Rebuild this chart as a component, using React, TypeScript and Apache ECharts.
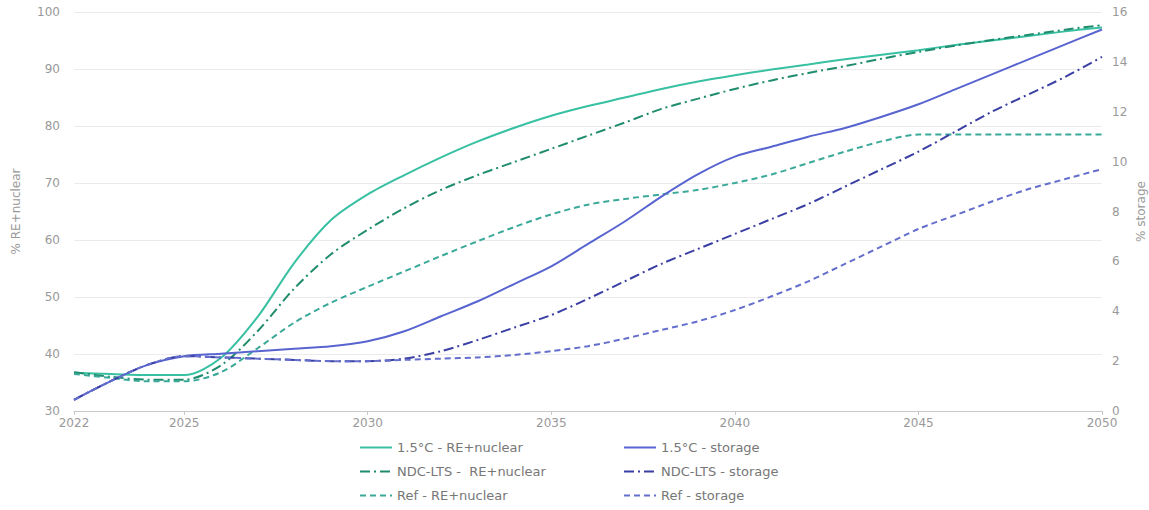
import React, { useEffect, useRef } from "react";
import * as echarts from "echarts";

const years = [
  "2022","2023","2024","2025","2026","2027","2028","2029","2030","2031",
  "2032","2033","2034","2035","2036","2037","2038","2039","2040","2041",
  "2042","2043","2044","2045","2046","2047","2048","2049","2050",
];

const re15 = [36.7,36.5,36.3,36.3,39.3,46.5,56,63.5,68,71.4,74.5,77.3,79.7,81.8,83.5,85,86.5,87.8,88.9,89.9,90.8,91.7,92.5,93.3,94.2,95,95.8,96.6,97.3];
const reNdc = [36.8,36,35.5,35.5,38,44,51.5,57.5,61.8,65.6,68.8,71.4,73.7,76,78.3,80.6,83,84.8,86.5,88,89.3,90.5,91.8,93,94.1,95.1,96,96.9,97.7];
const reRef = [36.5,35.8,35.2,35.2,36.8,41,45.5,49,51.8,54.5,57.2,59.8,62.3,64.5,66.2,67.2,68,68.8,70,71.5,73.5,75.5,77.3,78.5,78.5,78.5,78.5,78.5,78.5];

const st15 = [0.45,1.2,1.85,2.2,2.3,2.4,2.5,2.6,2.8,3.2,3.8,4.4,5.1,5.8,6.7,7.6,8.6,9.5,10.2,10.6,11.0,11.35,11.8,12.3,12.9,13.5,14.1,14.7,15.3];
const stNdc = [0.45,1.2,1.85,2.2,2.15,2.1,2.05,2.0,2.0,2.1,2.4,2.85,3.35,3.85,4.5,5.2,5.9,6.5,7.1,7.7,8.3,9.0,9.7,10.4,11.2,12.0,12.7,13.4,14.2];
const stRef = [0.45,1.2,1.85,2.2,2.15,2.1,2.05,2.0,2.0,2.05,2.1,2.15,2.25,2.4,2.6,2.9,3.25,3.6,4.05,4.6,5.2,5.9,6.6,7.3,7.85,8.4,8.9,9.3,9.7];

const names = {
  re15: "1.5°C - RE+nuclear",
  reNdc: "NDC-LTS -  RE+nuclear",
  reRef: "Ref - RE+nuclear",
  st15: "1.5°C - storage",
  stNdc: "NDC-LTS - storage",
  stRef: "Ref - storage",
};

const FONT = "DejaVu Sans";

export default function App() {
  const ref = useRef<HTMLDivElement>(null);
  useEffect(() => {
    if (!ref.current) return;
    const chart = echarts.init(ref.current, null, { renderer: "svg" });
    const showYear = (_i: number, v: string) => v === "2022" || Number(v) % 5 === 0;
    const mk = (name: string, data: number[], color: string, type: any, yAxisIndex: number) => ({
      name,
      type: "line",
      data,
      yAxisIndex,
      showSymbol: false,
      symbol: "none",
      smooth: 0.3,
      lineStyle: { color, width: 2, type },
      itemStyle: { color },
    });
    const dashDot = [10, 4, 2, 4];
    const dashed = [6, 4];
    const legendBase = {
      orient: "vertical",
      top: 436,
      itemWidth: 32,
      itemHeight: 14,
      itemGap: 11,
      itemStyle: { opacity: 0 },
      textStyle: { color: "#777", fontSize: 13, fontFamily: FONT },
    };
    chart.setOption({
      animation: false,
      textStyle: { fontFamily: FONT },
      grid: { left: 74, right: 47, top: 12, bottom: 99, outerBoundsMode: "none", containLabel: false },
      legend: [
        { ...legendBase, left: 354, data: [names.re15, names.reNdc, names.reRef] },
        { ...legendBase, left: 618, data: [names.st15, names.stNdc, names.stRef] },
      ],
      xAxis: {
        type: "category",
        data: years,
        boundaryGap: false,
        axisLine: { lineStyle: { color: "#c8c8c8" } },
        axisTick: { interval: showYear, length: 4, lineStyle: { color: "#c8c8c8" } },
        axisLabel: { interval: showYear, color: "#999", fontSize: 12, margin: 6, fontFamily: FONT },
        splitLine: { show: false },
      },
      yAxis: [
        {
          type: "value",
          min: 30,
          max: 100,
          interval: 10,
          name: "% RE+nuclear",
          nameLocation: "middle",
          nameRotate: 90,
          nameGap: 52,
          nameTextStyle: { color: "#999", fontSize: 12, fontFamily: FONT },
          axisLine: { show: false },
          axisTick: { show: false },
          axisLabel: { color: "#999", fontSize: 12, margin: 14, fontFamily: FONT },
          splitLine: { lineStyle: { color: "#ebebeb" } },
        },
        {
          type: "value",
          min: 0,
          max: 16,
          interval: 2,
          position: "right",
          name: "% storage",
          nameLocation: "middle",
          nameRotate: 90,
          nameGap: 33,
          nameMoveOverlap: false,
          nameTextStyle: { color: "#999", fontSize: 12, fontFamily: FONT },
          axisLine: { show: false },
          axisTick: { show: false },
          axisLabel: { color: "#999", fontSize: 12, margin: 10, fontFamily: FONT },
          splitLine: { show: false },
        },
      ],
      series: [
        mk(names.re15, re15, "#38c0a2", "solid", 0),
        mk(names.reNdc, reNdc, "#208c6e", dashDot, 0),
        mk(names.reRef, reRef, "#3aa999", dashed, 0),
        mk(names.st15, st15, "#5864d0", "solid", 1),
        mk(names.stNdc, stNdc, "#3a3fa3", dashDot, 1),
        mk(names.stRef, stRef, "#646ecc", dashed, 1),
      ],
    });
    return () => chart.dispose();
  }, []);
  return (
    <div
      ref={ref}
      style={{ position: "fixed", left: 0, top: 0, width: 1149, height: 510, background: "#fff" }}
    />
  );
}
